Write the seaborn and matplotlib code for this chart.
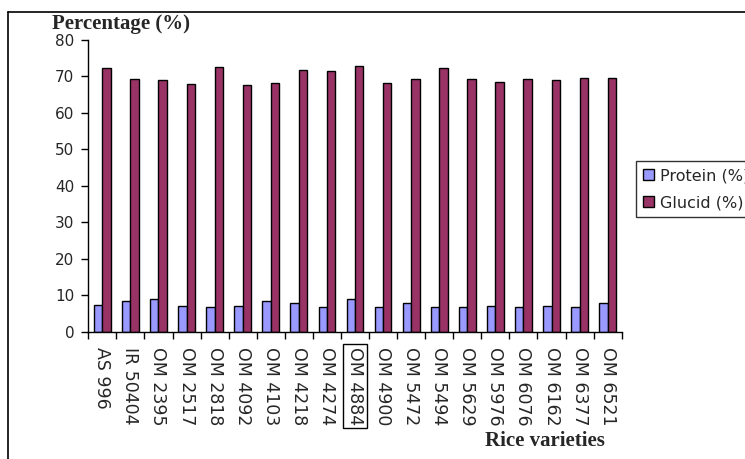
"""Protein and glucid content of rice varieties."""
import matplotlib
matplotlib.use("Agg")
import matplotlib.pyplot as plt
from matplotlib.lines import Line2D
import seaborn as sns
import pandas as pd

varieties = ['AS 996', 'IR 50404', 'OM 2395', 'OM 2517', 'OM 2818', 'OM 4092',
             'OM 4103', 'OM 4218', 'OM 4274', 'OM 4884', 'OM 4900', 'OM 5472',
             'OM 5494', 'OM 5629', 'OM 5976', 'OM 6076', 'OM 6162', 'OM 6377',
             'OM 6521']
protein = [7.4, 8.5, 8.9, 7.0, 6.7, 7.0, 8.5, 7.8, 6.7, 8.9,
           6.7, 7.8, 6.7, 6.7, 7.0, 6.7, 7.0, 6.7, 7.8]
glucid = [72.2, 69.3, 68.9, 67.9, 72.6, 67.6, 68.3, 71.9, 71.5, 73.0,
          68.2, 69.3, 72.2, 69.3, 68.6, 69.3, 68.9, 69.6, 69.6]
series = ['Protein (%)', 'Glucid (%)']
colors = ['#9999FF', '#993366']

df = pd.DataFrame({
    'variety': varieties * 2,
    'value': protein + glucid,
    'component': [series[0]] * len(varieties) + [series[1]] * len(varieties),
})

sns.set_style('ticks')
plt.rcParams['font.family'] = ['DejaVu Sans']

fig = plt.figure(figsize=(7.45, 4.59), dpi=100)
ax = fig.add_axes([88.3 / 745, 1 - 331.7 / 459, (621.7 - 88.3) / 745, (331.7 - 40) / 459])

sns.barplot(data=df, x='variety', y='value', hue='component', palette=colors,
            width=0.6, gap=0, saturation=1, edgecolor='black', linewidth=1,
            ax=ax)

ax.set_xlim(-0.5, len(varieties) - 0.5)
ax.set_ylim(0, 80)
ax.set_yticks(range(0, 81, 10))
ax.set_xlabel('')
ax.set_ylabel('')
sns.despine(ax=ax)
for sp in ['left', 'bottom']:
    ax.spines[sp].set_linewidth(1)
    ax.spines[sp].set_color('black')

# tick marks at category boundaries, labels at category centres
ax.set_xticks([i - 0.5 for i in range(len(varieties) + 1)], minor=True)
ax.tick_params(axis='x', which='minor', length=5, width=1, color='black')
ax.tick_params(axis='x', which='major', length=0, pad=11, labelsize=12.5)
ax.tick_params(axis='y', length=5, width=1, color='black', labelsize=11, pad=5)
for lbl in ax.get_xticklabels():
    lbl.set_rotation(270)
    lbl.set_ha('center')
    lbl.set_va('top')
    if lbl.get_text() == 'OM 4884':
        lbl.set_bbox(dict(facecolor='none', edgecolor='black', linewidth=1, pad=2))

ax.legend(loc='upper left', bbox_to_anchor=(636 / 745, 1 - 161 / 459),
          bbox_transform=fig.transFigure, frameon=True, fancybox=False,
          edgecolor='black', fontsize=11.5, handlelength=0.7, handleheight=0.7,
          handletextpad=0.35, borderpad=0.45, labelspacing=0.75, borderaxespad=0)
ax.get_legend().get_frame().set_linewidth(1)

fig.text(52 / 745, 1 - 24 / 459, 'Percentage (%)', family='Liberation Serif',
         fontweight='bold', fontsize=15, ha='left', va='center')
fig.text(545 / 745, 1 - 441 / 459, 'Rice varieties', family='Liberation Serif',
         fontweight='bold', fontsize=15, ha='center', va='center')

# chart area border (left and top edges visible)
fig.add_artist(Line2D([8 / 745, 8 / 745], [0, 1 - 12 / 459], color='black', lw=1.2,
                      transform=fig.transFigure))
fig.add_artist(Line2D([8 / 745, 1], [1 - 12 / 459, 1 - 12 / 459], color='black', lw=1.2,
                      transform=fig.transFigure))

fig.savefig('out.png', dpi=100)
